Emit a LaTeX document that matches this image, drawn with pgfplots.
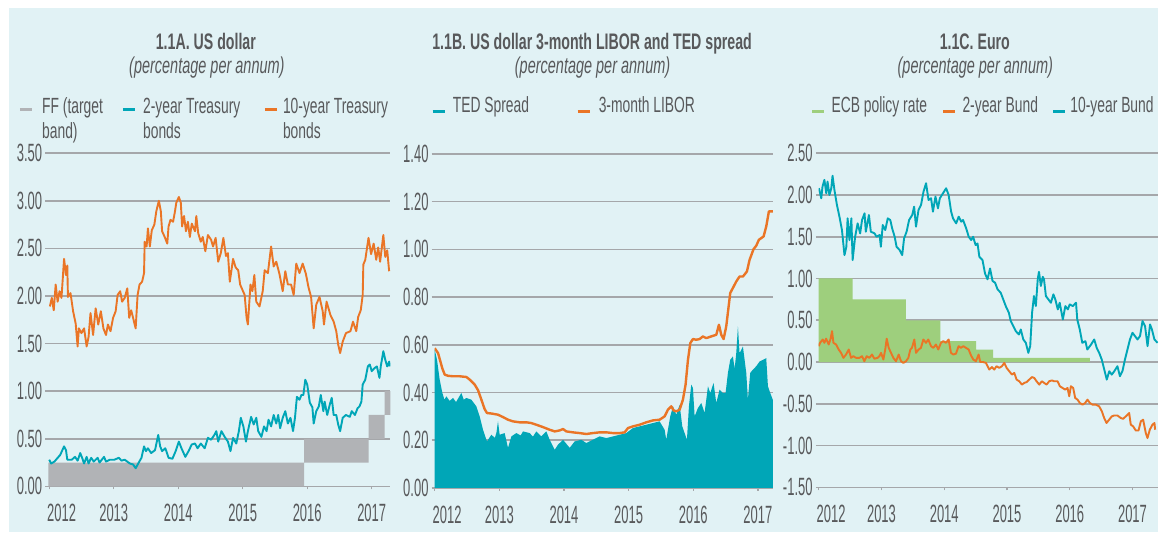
\documentclass[border=0pt]{standalone}
\usepackage{pgfplots}
\pgfplotsset{compat=1.18}
\usepackage{fontspec}
\setmainfont{Liberation Sans}[FakeStretch=0.63]
\newfontfamily\tickfont{Liberation Sans}[FakeStretch=0.52]
\definecolor{bgblue}{RGB}{225,242,245}
\definecolor{gridc}{RGB}{165,167,170}
\definecolor{txt}{RGB}{88,89,91}
\definecolor{orng}{RGB}{234,117,38}
\definecolor{tealc}{RGB}{0,166,183}
\definecolor{grayband}{RGB}{177,179,182}
\definecolor{greenc}{RGB}{158,207,125}
\newcommand{\fs}{\fontsize{22bp}{26bp}\selectfont}
\newcommand{\ts}{\tickfont\fontsize{25bp}{28bp}\selectfont}
\pgfplotsset{
  panel/.style={
    scale only axis, anchor=south west,
    axis x line*=bottom, axis y line*=left,
    axis line style={draw=none},
    ymajorgrids, grid style={draw=gridc, line width=1.6bp},
    major grid style={draw=gridc, line width=1.6bp},
    tick align=outside, major tick length=3bp,
    xtick style={draw=gridc, line width=1.2bp},
    ytick style={draw=gridc, line width=1.6bp},
    xtick={2012,2013,2014,2015,2016,2017},
    xticklabels={\makebox[0pt][l]{\hspace{-2bp}2012},2013,2014,2015,2016,2017},
    ticklabel style={font=\ts, text=txt},
    yticklabel style={inner sep=0pt, xshift=-3bp},
    xticklabel style={inner sep=0pt, yshift=-15bp},
  },
  ln/.style={line width=1.9bp, line join=round},
}
\begin{document}
\begin{tikzpicture}
\begin{scope}[x=1bp,y=1bp]
\useasboundingbox (0,0) rectangle (1159,533);
\fill[white] (0,0) rectangle (1159,533);
\fill[bgblue] (9,1) rectangle (1159,525);
\end{scope}

% ---------------- Panel A ----------------
\begin{axis}[panel, at={(48.3bp,46.3bp)}, width=342.4bp, height=333.4bp,
  xmin=2011.985, xmax=2017.29, ymin=0, ymax=3.5,
  ytick={0,0.5,1,1.5,2,2.5,3,3.5},
  yticklabels={0.00,0.50,1.00,1.50,2.00,2.50,3.00,3.50}]
\addplot[fill=grayband, draw=none] coordinates {
(2011.985,0.25)(2015.95,0.25)(2015.95,0.5)(2016.95,0.5)(2016.95,0.75)(2017.2,0.75)(2017.2,1.0)(2017.29,1.0)
(2017.29,0.75)(2017.2,0.75)(2017.2,0.5)(2016.95,0.5)(2016.95,0.25)(2015.95,0.25)(2015.95,0)(2011.985,0)(2011.985,0.25)};
\addplot[ln, tealc] coordinates {
(2012.00,0.28)(2012.03,0.24)(2012.08,0.26)(2012.17,0.33)(2012.23,0.42)(2012.26,0.38)(2012.28,0.28)(2012.35,0.28)(2012.40,0.31)(2012.44,0.27)(2012.48,0.35)(2012.51,0.30)(2012.54,0.24)(2012.58,0.31)(2012.61,0.24)(2012.65,0.30)(2012.69,0.26)(2012.75,0.30)(2012.78,0.25)(2012.85,0.31)(2012.88,0.26)(2012.94,0.28)(2013.01,0.28)(2013.08,0.30)(2013.12,0.27)(2013.17,0.28)(2013.25,0.24)(2013.30,0.23)(2013.34,0.19)(2013.38,0.24)(2013.43,0.30)(2013.47,0.42)(2013.50,0.37)(2013.53,0.40)(2013.58,0.35)(2013.64,0.38)(2013.69,0.54)(2013.72,0.42)(2013.75,0.37)(2013.80,0.40)(2013.85,0.30)(2013.91,0.29)(2013.96,0.37)(2014.01,0.47)(2014.05,0.40)(2014.11,0.31)(2014.16,0.37)(2014.21,0.44)(2014.26,0.45)(2014.30,0.40)(2014.35,0.45)(2014.41,0.40)(2014.46,0.51)(2014.51,0.49)(2014.56,0.54)(2014.59,0.58)(2014.62,0.47)(2014.67,0.58)(2014.72,0.52)(2014.77,0.47)(2014.81,0.37)(2014.85,0.51)(2014.90,0.45)(2014.94,0.58)(2014.97,0.72)(2015.01,0.63)(2015.05,0.47)(2015.08,0.58)(2015.13,0.73)(2015.17,0.65)(2015.21,0.72)(2015.24,0.58)(2015.29,0.52)(2015.33,0.63)(2015.37,0.58)(2015.40,0.70)(2015.44,0.63)(2015.48,0.75)(2015.52,0.66)(2015.55,0.75)(2015.58,0.61)(2015.62,0.72)(2015.66,0.79)(2015.70,0.66)(2015.74,0.72)(2015.78,0.58)(2015.81,0.72)(2015.84,0.94)(2015.88,0.91)(2015.91,0.96)(2015.94,0.96)(2015.97,1.12)(2016.00,1.07)(2016.04,0.88)(2016.08,0.83)(2016.10,0.66)(2016.14,0.79)(2016.18,0.84)(2016.21,0.96)(2016.25,0.79)(2016.27,0.89)(2016.31,0.75)(2016.35,0.86)(2016.38,0.93)(2016.41,0.75)(2016.45,0.75)(2016.48,0.65)(2016.51,0.58)(2016.55,0.72)(2016.60,0.75)(2016.66,0.73)(2016.69,0.79)(2016.74,0.75)(2016.78,0.82)(2016.81,0.84)(2016.84,0.89)(2016.86,1.07)(2016.90,1.12)(2016.94,1.26)(2016.97,1.28)(2017.00,1.21)(2017.04,1.24)(2017.08,1.26)(2017.12,1.14)(2017.14,1.26)(2017.18,1.42)(2017.21,1.33)(2017.24,1.26)(2017.27,1.31)(2017.28,1.26)};
\addplot[ln, orng] coordinates {
(2012.01,1.89)(2012.04,1.98)(2012.07,1.85)(2012.10,2.12)(2012.13,1.94)(2012.16,2.05)(2012.19,1.98)(2012.23,2.39)(2012.26,2.22)(2012.28,2.32)(2012.29,1.99)(2012.33,2.03)(2012.37,1.84)(2012.41,1.71)(2012.44,1.47)(2012.46,1.66)(2012.50,1.61)(2012.54,1.66)(2012.58,1.47)(2012.61,1.57)(2012.64,1.82)(2012.68,1.59)(2012.72,1.87)(2012.76,1.70)(2012.80,1.84)(2012.84,1.66)(2012.88,1.59)(2012.91,1.70)(2012.95,1.63)(2012.99,1.77)(2013.03,1.84)(2013.06,2.01)(2013.10,2.05)(2013.13,1.94)(2013.17,1.98)(2013.21,2.08)(2013.24,1.77)(2013.27,1.85)(2013.30,1.77)(2013.34,1.66)(2013.37,2.01)(2013.40,2.12)(2013.44,2.15)(2013.47,2.24)(2013.48,2.57)(2013.51,2.52)(2013.53,2.71)(2013.56,2.52)(2013.59,2.69)(2013.63,2.75)(2013.66,2.89)(2013.70,3.00)(2013.73,2.89)(2013.75,2.68)(2013.79,2.62)(2013.83,2.55)(2013.85,2.73)(2013.88,2.80)(2013.92,2.78)(2013.95,2.89)(2013.97,2.98)(2014.01,3.04)(2014.04,2.98)(2014.06,2.73)(2014.09,2.84)(2014.12,2.68)(2014.15,2.78)(2014.18,2.62)(2014.21,2.76)(2014.26,2.68)(2014.28,2.84)(2014.31,2.66)(2014.35,2.57)(2014.38,2.62)(2014.42,2.47)(2014.46,2.64)(2014.51,2.59)(2014.54,2.52)(2014.58,2.61)(2014.62,2.36)(2014.66,2.45)(2014.70,2.61)(2014.74,2.42)(2014.77,2.45)(2014.80,2.15)(2014.85,2.39)(2014.89,2.30)(2014.93,2.27)(2014.96,2.12)(2015.03,2.01)(2015.06,1.77)(2015.08,1.70)(2015.12,2.12)(2015.15,2.05)(2015.18,2.22)(2015.21,1.94)(2015.26,1.89)(2015.31,2.05)(2015.34,2.27)(2015.39,2.24)(2015.44,2.52)(2015.48,2.31)(2015.52,2.36)(2015.57,2.23)(2015.62,2.05)(2015.66,2.26)(2015.70,2.12)(2015.75,2.12)(2015.79,2.01)(2015.83,2.34)(2015.88,2.24)(2015.93,2.34)(2015.98,2.23)(2016.02,2.09)(2016.06,1.99)(2016.10,1.66)(2016.14,1.91)(2016.19,1.99)(2016.24,1.84)(2016.26,1.70)(2016.30,1.94)(2016.36,1.80)(2016.41,1.73)(2016.45,1.63)(2016.48,1.49)(2016.51,1.40)(2016.55,1.52)(2016.60,1.61)(2016.67,1.63)(2016.71,1.73)(2016.76,1.63)(2016.79,1.78)(2016.83,1.85)(2016.86,2.01)(2016.87,2.33)(2016.90,2.38)(2016.95,2.61)(2016.99,2.44)(2017.03,2.55)(2017.07,2.38)(2017.10,2.51)(2017.13,2.36)(2017.18,2.64)(2017.21,2.41)(2017.24,2.48)(2017.27,2.26)};
\end{axis}

% ---------------- Panel B ----------------
\begin{axis}[panel, at={(435bp,44.7bp)}, width=338.3bp, height=334.3bp,
  xmin=2012, xmax=2017.23, ymin=0, ymax=1.4,
  ytick={0,0.2,0.4,0.6,0.8,1.0,1.2,1.4},
  yticklabels={0.00,0.20,0.40,0.60,0.80,1.00,1.20,1.40}]
\addplot[fill=tealc, draw=none] coordinates {
(2012.000,0.58)(2012.036,0.537)(2012.077,0.454)(2012.119,0.398)(2012.150,0.37)(2012.180,0.384)(2012.230,0.365)(2012.284,0.377)(2012.330,0.36)(2012.412,0.398)(2012.450,0.37)(2012.490,0.377)(2012.567,0.370)(2012.644,0.342)(2012.696,0.300)(2012.747,0.244)(2012.809,0.195)(2012.876,0.223)(2012.930,0.21)(2012.954,0.230)(2012.979,0.279)(2013.005,0.223)(2013.082,0.230)(2013.134,0.168)(2013.186,0.216)(2013.263,0.230)(2013.330,0.22)(2013.366,0.237)(2013.469,0.230)(2013.520,0.215)(2013.572,0.237)(2013.649,0.216)(2013.727,0.237)(2013.778,0.202)(2013.856,0.160)(2013.907,0.181)(2013.985,0.202)(2014.088,0.168)(2014.165,0.195)(2014.268,0.202)(2014.345,0.188)(2014.448,0.202)(2014.552,0.216)(2014.655,0.209)(2014.758,0.216)(2014.861,0.223)(2014.964,0.230)(2015.067,0.251)(2015.170,0.258)(2015.273,0.265)(2015.376,0.272)(2015.479,0.279)(2015.557,0.244)(2015.582,0.202)(2015.608,0.244)(2015.644,0.300)(2015.686,0.342)(2015.737,0.307)(2015.789,0.349)(2015.830,0.258)(2015.866,0.230)(2015.902,0.202)(2015.933,0.342)(2015.969,0.433)(2015.995,0.419)(2016.021,0.300)(2016.072,0.335)(2016.124,0.356)(2016.175,0.314)(2016.227,0.426)(2016.263,0.398)(2016.314,0.440)(2016.356,0.356)(2016.407,0.412)(2016.459,0.398)(2016.500,0.398)(2016.536,0.482)(2016.572,0.537)(2016.613,0.551)(2016.640,0.50)(2016.665,0.565)(2016.691,0.677)(2016.716,0.565)(2016.768,0.593)(2016.820,0.482)(2016.845,0.370)(2016.881,0.482)(2016.923,0.496)(2016.974,0.510)(2017.026,0.530)(2017.077,0.537)(2017.129,0.544)(2017.155,0.426)(2017.191,0.398)(2017.23,0.370)} \closedcycle;
\addplot[line width=2.4bp, line join=round, orng] coordinates {
(2012.000,0.586)(2012.052,0.565)(2012.088,0.53)(2012.119,0.50)(2012.155,0.475)(2012.206,0.47)(2012.284,0.468)(2012.387,0.468)(2012.490,0.465)(2012.541,0.454)(2012.619,0.433)(2012.670,0.41)(2012.722,0.37)(2012.773,0.33)(2012.809,0.314)(2012.876,0.312)(2012.979,0.307)(2013.057,0.297)(2013.134,0.286)(2013.211,0.279)(2013.314,0.275)(2013.418,0.275)(2013.495,0.272)(2013.572,0.265)(2013.675,0.255)(2013.778,0.244)(2013.856,0.237)(2013.933,0.241)(2013.985,0.247)(2014.036,0.237)(2014.139,0.233)(2014.242,0.230)(2014.345,0.226)(2014.448,0.230)(2014.552,0.233)(2014.655,0.233)(2014.758,0.230)(2014.861,0.230)(2014.938,0.233)(2014.990,0.251)(2015.067,0.258)(2015.170,0.265)(2015.273,0.275)(2015.376,0.283)(2015.479,0.286)(2015.557,0.300)(2015.608,0.328)(2015.660,0.342)(2015.696,0.325)(2015.737,0.321)(2015.789,0.328)(2015.840,0.37)(2015.881,0.433)(2015.918,0.537)(2015.954,0.607)(2015.995,0.624)(2016.046,0.621)(2016.098,0.624)(2016.149,0.635)(2016.201,0.628)(2016.278,0.635)(2016.356,0.642)(2016.397,0.684)(2016.433,0.642)(2016.469,0.624)(2016.510,0.677)(2016.572,0.817)(2016.613,0.838)(2016.665,0.865)(2016.716,0.886)(2016.768,0.886)(2016.830,0.907)(2016.871,0.956)(2016.933,1.001)(2016.974,1.015)(2017.015,1.040)(2017.088,1.054)(2017.129,1.096)(2017.170,1.159)(2017.232,1.159)};
\end{axis}

% ---------------- Panel C ----------------
\begin{axis}[panel, at={(819.3bp,45.3bp)}, width=339.7bp, height=334.4bp,
  xmin=2012, xmax=2017.41, ymin=-1.5, ymax=2.5,
  ytick={-1.5,-1,-0.5,0,0.5,1,1.5,2,2.5},
  yticklabels={-1.50,-1.00,-0.50,0.00,0.50,1.00,1.50,2.00,2.50}]
\addplot[const plot, fill=greenc, draw=none] coordinates {
(2012.00,1.00)(2012.54,0.75)(2013.39,0.50)(2013.94,0.25)(2014.51,0.15)(2014.78,0.05)(2016.32,0.05)} \closedcycle;
\addplot[ln, orng] coordinates {
(2012.00,0.19)(2012.021,0.23)(2012.064,0.27)(2012.090,0.23)(2012.117,0.28)(2012.159,0.21)(2012.186,0.27)(2012.212,0.37)(2012.234,0.23)(2012.276,0.21)(2012.318,0.15)(2012.356,0.11)(2012.393,0.05)(2012.435,0.09)(2012.478,0.15)(2012.515,0.05)(2012.552,0.07)(2012.594,0.05)(2012.648,0.05)(2012.690,0.07)(2012.727,0.01)(2012.764,0.07)(2012.807,0.05)(2012.849,0.09)(2012.886,0.04)(2012.939,0.05)(2012.966,0.07)(2012.993,0.11)(2013.030,0.03)(2013.062,0.16)(2013.083,0.28)(2013.115,0.17)(2013.152,0.11)(2013.189,0.05)(2013.231,0.01)(2013.274,0.09)(2013.311,0.01)(2013.348,-0.01)(2013.391,0.01)(2013.428,0.05)(2013.460,0.15)(2013.486,0.17)(2013.523,0.27)(2013.550,0.11)(2013.592,0.15)(2013.629,0.17)(2013.667,0.27)(2013.709,0.23)(2013.746,0.27)(2013.789,0.19)(2013.826,0.17)(2013.868,0.21)(2013.905,0.15)(2013.948,0.23)(2013.985,0.25)(2014.028,0.23)(2014.070,0.27)(2014.107,0.11)(2014.144,0.09)(2014.187,0.10)(2014.229,0.19)(2014.266,0.17)(2014.304,0.19)(2014.346,0.17)(2014.389,0.15)(2014.426,0.08)(2014.463,0.03)(2014.505,0.01)(2014.548,0.09)(2014.574,0.00)(2014.622,0.00)(2014.665,-0.01)(2014.718,-0.09)(2014.760,-0.06)(2014.797,-0.09)(2014.834,-0.05)(2014.877,-0.07)(2014.919,-0.05)(2014.957,-0.01)(2014.994,-0.07)(2015.036,-0.11)(2015.079,-0.15)(2015.116,-0.13)(2015.153,-0.21)(2015.195,-0.23)(2015.238,-0.27)(2015.275,-0.25)(2015.312,-0.24)(2015.355,-0.21)(2015.397,-0.18)(2015.434,-0.19)(2015.471,-0.23)(2015.514,-0.27)(2015.556,-0.23)(2015.593,-0.25)(2015.631,-0.27)(2015.673,-0.23)(2015.715,-0.22)(2015.753,-0.23)(2015.806,-0.23)(2015.843,-0.29)(2015.885,-0.31)(2015.928,-0.33)(2015.965,-0.31)(2015.992,-0.41)(2016.018,-0.29)(2016.055,-0.31)(2016.087,-0.43)(2016.124,-0.45)(2016.161,-0.49)(2016.204,-0.51)(2016.246,-0.49)(2016.283,-0.45)(2016.321,-0.49)(2016.363,-0.51)(2016.416,-0.51)(2016.469,-0.53)(2016.512,-0.59)(2016.549,-0.67)(2016.586,-0.73)(2016.628,-0.69)(2016.671,-0.65)(2016.708,-0.64)(2016.761,-0.64)(2016.814,-0.67)(2016.851,-0.68)(2016.894,-0.65)(2016.947,-0.61)(2016.973,-0.75)(2017.011,-0.77)(2017.053,-0.82)(2017.096,-0.82)(2017.133,-0.71)(2017.170,-0.69)(2017.212,-0.85)(2017.239,-0.91)(2017.276,-0.81)(2017.318,-0.75)(2017.350,-0.73)(2017.361,-0.81)};
\addplot[ln, tealc] coordinates {
(2012.00,2.08)(2012.01,2.06)(2012.04,1.96)(2012.06,2.10)(2012.09,2.18)(2012.12,2.02)(2012.14,2.16)(2012.17,2.00)(2012.20,2.08)(2012.22,2.23)(2012.25,2.06)(2012.29,1.88)(2012.33,1.74)(2012.37,1.58)(2012.41,1.28)(2012.44,1.38)(2012.46,1.72)(2012.49,1.46)(2012.52,1.72)(2012.54,1.22)(2012.58,1.50)(2012.62,1.66)(2012.66,1.54)(2012.69,1.70)(2012.73,1.78)(2012.75,1.56)(2012.80,1.76)(2012.83,1.56)(2012.89,1.54)(2012.92,1.50)(2012.97,1.52)(2012.99,1.38)(2013.02,1.64)(2013.06,1.58)(2013.10,1.72)(2013.14,1.70)(2013.17,1.60)(2013.21,1.50)(2013.24,1.38)(2013.29,1.34)(2013.33,1.28)(2013.36,1.48)(2013.40,1.56)(2013.44,1.70)(2013.49,1.76)(2013.52,1.86)(2013.55,1.62)(2013.59,1.82)(2013.63,1.88)(2013.67,2.04)(2013.71,2.14)(2013.75,1.94)(2013.79,1.96)(2013.82,1.80)(2013.86,1.98)(2013.90,1.84)(2013.93,1.96)(2013.98,2.02)(2014.03,2.08)(2014.07,2.00)(2014.11,1.80)(2014.14,1.72)(2014.19,1.66)(2014.23,1.74)(2014.27,1.68)(2014.30,1.70)(2014.35,1.60)(2014.39,1.50)(2014.43,1.46)(2014.46,1.50)(2014.50,1.40)(2014.53,1.42)(2014.56,1.26)(2014.61,1.22)(2014.65,1.06)(2014.69,0.99)(2014.73,1.12)(2014.77,0.97)(2014.81,0.95)(2014.85,0.87)(2014.90,0.83)(2014.94,0.75)(2014.98,0.67)(2015.03,0.59)(2015.06,0.49)(2015.10,0.43)(2015.14,0.37)(2015.19,0.33)(2015.22,0.39)(2015.26,0.27)(2015.30,0.23)(2015.34,0.11)(2015.37,0.19)(2015.40,0.59)(2015.43,0.79)(2015.46,0.67)(2015.49,0.99)(2015.51,1.08)(2015.54,0.91)(2015.57,1.02)(2015.59,0.99)(2015.62,0.79)(2015.66,0.75)(2015.70,0.71)(2015.74,0.81)(2015.77,0.75)(2015.81,0.63)(2015.84,0.71)(2015.89,0.51)(2015.93,0.67)(2015.97,0.63)(2016.00,0.69)(2016.05,0.67)(2016.10,0.71)(2016.12,0.51)(2016.16,0.39)(2016.20,0.23)(2016.25,0.25)(2016.28,0.15)(2016.34,0.21)(2016.39,0.27)(2016.43,0.17)(2016.47,0.11)(2016.51,0.03)(2016.55,-0.09)(2016.59,-0.21)(2016.63,-0.11)(2016.67,-0.15)(2016.71,-0.11)(2016.76,-0.05)(2016.80,-0.17)(2016.84,-0.11)(2016.88,0.03)(2016.92,0.15)(2016.96,0.27)(2017.00,0.35)(2017.04,0.31)(2017.08,0.27)(2017.12,0.31)(2017.16,0.49)(2017.20,0.43)(2017.24,0.19)(2017.28,0.45)(2017.31,0.39)(2017.35,0.27)(2017.40,0.23)};
\end{axis}

% ---------------- Titles and legends ----------------
\begin{scope}[x=1bp, y=1bp, every node/.style={text=txt, font=\fs, inner sep=0pt}]
\node[anchor=base, font=\fontsize{22.5bp}{26bp}\selectfont\bfseries] at (206,483) {1.1A. US dollar};
\node[anchor=base, font=\fontsize{23bp}{26bp}\selectfont\itshape] at (207,459) {(percentage per annum)};
\node[anchor=base, font=\fontsize{22.5bp}{26bp}\selectfont\bfseries] at (592.5,483) {1.1B. US dollar 3-month LIBOR and TED spread};
\node[anchor=base, font=\fontsize{23bp}{26bp}\selectfont\itshape] at (593,459) {(percentage per annum)};
\node[anchor=base, font=\fontsize{22.5bp}{26bp}\selectfont\bfseries] at (975.5,483) {1.1C. Euro};
\node[anchor=base, font=\fontsize{23bp}{26bp}\selectfont\itshape] at (976,459) {(percentage per annum)};
% legend A
\draw[grayband, line width=3bp] (20,423) -- (32,423);
\node[anchor=base west] at (42,419) {FF (target};
\node[anchor=base west] at (42,394) {band)};
\draw[tealc, line width=3bp] (123,423) -- (135,423);
\node[anchor=base west] at (143,419) {2-year Treasury};
\node[anchor=base west] at (143,394) {bonds};
\draw[orng, line width=3bp] (265,423) -- (277,423);
\node[anchor=base west] at (283,419) {10-year Treasury};
\node[anchor=base west] at (283,394) {bonds};
% legend B
\draw[tealc, line width=3bp] (433,421) -- (445,421);
\node[anchor=base west] at (453,420) {TED Spread};
\draw[orng, line width=3bp] (578,421) -- (590,421);
\node[anchor=base west] at (599,420) {3-month LIBOR};
% legend C
\draw[greenc, line width=3bp] (813,421) -- (825,421);
\node[anchor=base west] at (832,420) {ECB policy rate};
\draw[orng, line width=3bp] (944,421) -- (956,421);
\node[anchor=base west] at (963,420) {2-year Bund};
\draw[tealc, line width=3bp] (1054,421) -- (1066,421);
\node[anchor=base west] at (1071,420) {10-year Bund};
\end{scope}
\end{tikzpicture}
\end{document}
